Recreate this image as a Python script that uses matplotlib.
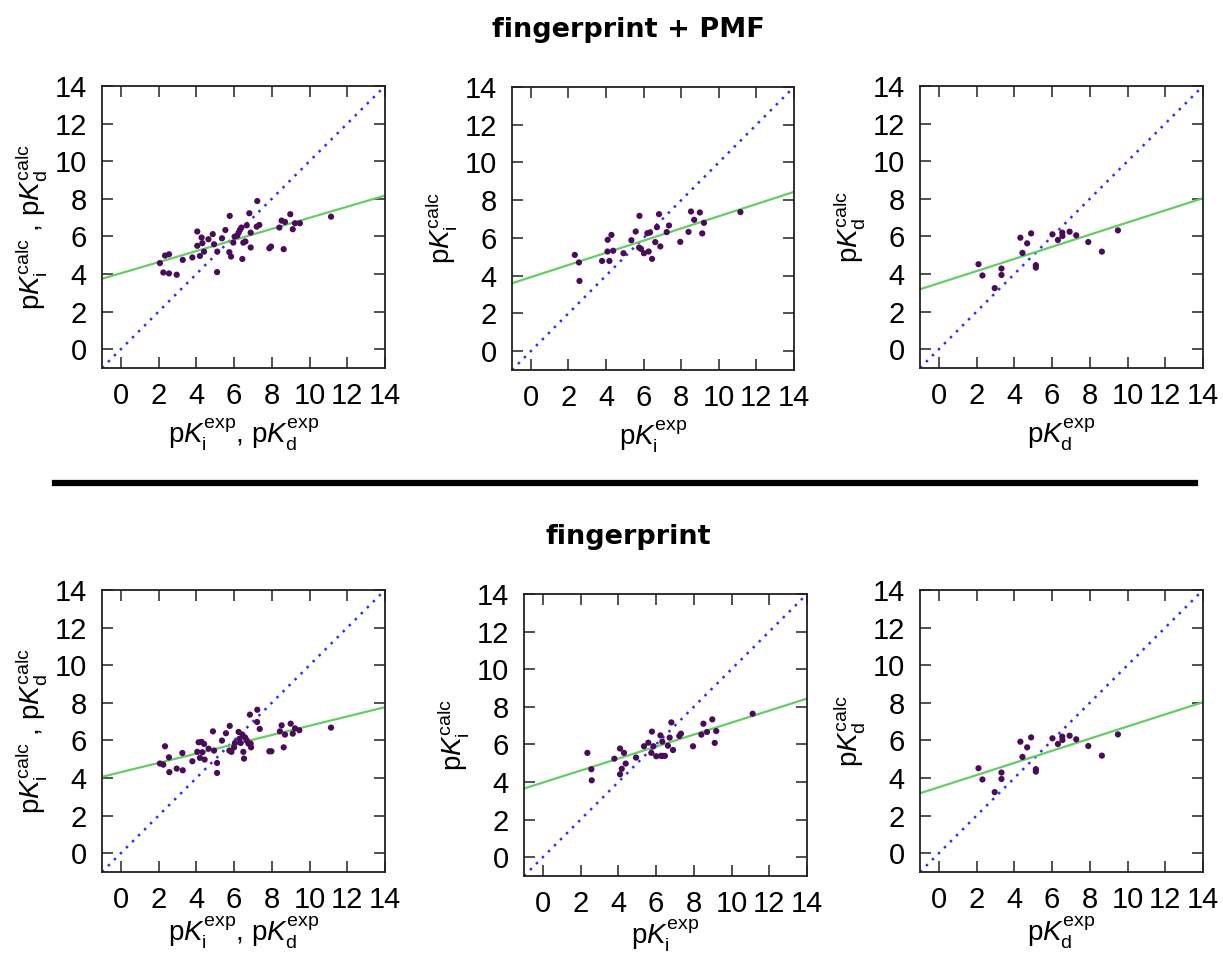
import numpy as np
import matplotlib
matplotlib.use("Agg")
import matplotlib.pyplot as plt
from matplotlib.lines import Line2D

plt.rcParams["font.family"] = ["Liberation Sans", "DejaVu Sans"]
plt.rcParams["mathtext.fontset"] = "custom"
plt.rcParams["mathtext.rm"] = "Liberation Sans"
plt.rcParams["mathtext.it"] = "Liberation Sans:italic"

# fingerprint + PMF, combined Ki and Kd
pmf_all_x = [2.07, 2.25, 2.34, 2.55, 2.55, 2.96, 3.28, 3.79, 4.05, 4.05, 4.19, 4.28, 4.32,
             4.41, 4.64, 4.87, 4.94, 5.10, 5.11, 5.36, 5.54, 5.77, 5.75, 5.84, 5.96, 6.03,
             6.17, 6.24, 6.31, 6.39, 6.44, 6.49, 6.60, 6.67, 6.81, 6.88, 6.88, 7.20, 7.23,
             7.34, 7.87, 7.96, 8.40, 8.52, 8.63, 8.70, 8.98, 9.11, 9.23, 9.49, 11.14]
pmf_all_y = [4.58, 4.08, 4.98, 5.05, 4.03, 3.96, 4.75, 4.88, 6.26, 5.50, 4.96, 5.94, 5.64,
             5.19, 5.85, 6.12, 5.58, 4.10, 5.19, 5.90, 6.34, 7.09, 5.16, 4.93, 5.67, 5.99,
             6.04, 6.20, 6.34, 6.47, 4.80, 5.67, 5.73, 6.59, 7.23, 5.41, 6.20, 6.52, 7.88,
             6.61, 5.37, 5.46, 6.47, 6.84, 5.32, 6.77, 7.18, 6.38, 6.70, 6.70, 7.05]

# fingerprint + PMF, Ki only
pmf_ki_x = [2.34, 2.56, 2.59, 3.79, 4.08, 4.09, 4.18, 4.29, 4.38, 4.93, 5.35, 5.58, 5.78,
            5.76, 5.86, 6.02, 6.20, 6.34, 6.27, 6.45, 6.62, 6.71, 6.82, 6.89, 7.23, 7.35,
            7.95, 8.39, 8.52, 8.69, 8.99, 9.12, 9.21, 11.15]
pmf_ki_y = [5.10, 4.70, 3.72, 4.78, 5.28, 5.90, 4.78, 6.16, 5.32, 5.19, 5.88, 6.34, 7.17,
            5.49, 5.42, 5.19, 6.25, 6.29, 5.28, 4.89, 5.78, 6.57, 7.26, 5.55, 6.31, 6.66,
            5.79, 6.32, 7.40, 6.96, 7.35, 6.24, 6.80, 7.37]

# Kd only (same in both rows)
kd_x = [2.10, 2.31, 2.96, 3.32, 3.32, 4.32, 4.43, 4.68, 4.89, 5.14, 5.14, 6.02, 6.31,
        6.54, 6.55, 6.93, 7.28, 7.92, 8.64, 9.49]
kd_y = [4.52, 3.92, 3.25, 4.29, 3.95, 5.93, 5.12, 5.63, 6.16, 4.47, 4.34, 6.11, 5.81,
        6.20, 6.02, 6.25, 6.06, 5.70, 5.19, 6.32]

# fingerprint, combined Ki and Kd
fp_all_x = [2.07, 2.25, 2.34, 2.55, 2.57, 2.96, 3.26, 3.28, 3.79, 4.05, 4.12, 4.19, 4.28,
            4.32, 4.41, 4.44, 4.65, 4.88, 4.94, 5.10, 5.10, 5.36, 5.57, 5.77, 5.75, 5.86,
            6.00, 6.05, 6.24, 6.28, 6.35, 6.44, 6.49, 6.53, 6.58, 6.67, 6.76, 6.84, 6.88,
            6.90, 7.22, 7.23, 7.36, 7.87, 7.98, 8.43, 8.52, 8.63, 8.70, 9.00, 9.11, 9.23,
            9.46, 11.14]
fp_all_y = [4.77, 4.71, 5.69, 5.10, 4.31, 4.50, 5.33, 4.41, 4.89, 5.39, 5.90, 5.07, 5.92,
            5.37, 5.81, 4.98, 5.56, 6.48, 5.46, 4.80, 4.27, 5.99, 6.38, 6.77, 5.46, 5.39,
            5.63, 5.86, 6.45, 6.08, 5.86, 6.31, 5.39, 5.03, 6.16, 6.01, 5.83, 7.37, 5.83,
            5.63, 6.98, 7.63, 6.61, 5.42, 5.42, 6.48, 6.80, 5.63, 6.31, 6.89, 6.36, 6.64,
            6.54, 6.68]

# fingerprint, Ki only
fp_ki_x = [2.36, 2.57, 2.59, 3.79, 4.09, 4.09, 4.18, 4.30, 4.39, 4.94, 5.36, 5.59, 5.78,
           5.75, 5.86, 6.01, 6.23, 6.26, 6.33, 6.35, 6.47, 6.63, 6.72, 6.81, 6.90, 7.23,
           7.32, 7.96, 8.40, 8.51, 8.70, 8.98, 9.11, 9.19, 11.12]
fp_ki_y = [5.55, 4.68, 4.09, 5.24, 5.78, 4.41, 4.70, 5.55, 4.98, 5.30, 5.90, 6.09, 6.68,
           5.55, 5.90, 5.37, 6.48, 5.39, 6.15, 5.39, 5.39, 5.93, 6.36, 7.17, 5.70, 6.45,
           6.57, 5.90, 6.52, 7.10, 6.66, 7.33, 6.08, 6.71, 7.63]

# regression lines (slope, intercept)
fit_pmf_all = (0.295, 4.04)
fit_pmf_ki = (0.323, 3.92)
fit_kd = (0.323, 3.51)
fit_fp_all = (0.247, 4.31)
fit_fp_ki = (0.319, 3.97)

XLAB_ALL = r"p$K_\mathrm{i}^\mathrm{exp}$, p$K_\mathrm{d}^\mathrm{exp}$"
YLAB_ALL = r"p$K_\mathrm{i}^\mathrm{calc}$ , p$K_\mathrm{d}^\mathrm{calc}$"
XLAB_KI = r"p$K_\mathrm{i}^\mathrm{exp}$"
YLAB_KI = r"p$K_\mathrm{i}^\mathrm{calc}$"
XLAB_KD = r"p$K_\mathrm{d}^\mathrm{exp}$"
YLAB_KD = r"p$K_\mathrm{d}^\mathrm{calc}$"

W, H = 1223.0, 960.0


def make_ax(fig, left, top, right, bottom):
    return fig.add_axes([left / W, 1 - bottom / H, (right - left) / W, (bottom - top) / H])


def draw_panel(ax, x, y, fit, xlabel, ylabel, xpad=5):
    lim = np.array([-1.0, 14.0])
    ax.plot(lim, lim, color="#2b2bff", lw=1.8, ls=(0, (1, 2.4)), zorder=2)
    ax.plot(lim, fit[0] * lim + fit[1], color="#66cc66", lw=1.6, zorder=2)
    ax.scatter(x, y, s=20, color="#480c58", edgecolors="none", zorder=3)
    ax.set_xlim(-1, 14)
    ax.set_ylim(-1, 14)
    ax.set_xticks(np.arange(0, 15, 2))
    ax.set_yticks(np.arange(0, 15, 2))
    ax.tick_params(direction="in", length=8, width=1.1, top=True, right=True,
                   labelsize=21, color="#222222")
    ax.tick_params(axis="x", pad=10)
    ax.tick_params(axis="y", pad=11)
    for sp in ax.spines.values():
        sp.set_linewidth(1.3)
        sp.set_color("#222222")
    ax.set_xlabel(xlabel, fontsize=20, labelpad=xpad)
    ax.set_ylabel(ylabel, fontsize=20, labelpad=4)


fig = plt.figure(figsize=(W / 100, H / 100), dpi=100)

ax1 = make_ax(fig, 102, 86, 385, 368)
draw_panel(ax1, pmf_all_x, pmf_all_y, fit_pmf_all, XLAB_ALL, YLAB_ALL)
ax2 = make_ax(fig, 512, 87, 794, 370)
draw_panel(ax2, pmf_ki_x, pmf_ki_y, fit_pmf_ki, XLAB_KI, YLAB_KI)
ax3 = make_ax(fig, 920, 86, 1203, 368)
draw_panel(ax3, kd_x, kd_y, fit_kd, XLAB_KD, YLAB_KD)

ax4 = make_ax(fig, 102, 590, 385, 872)
draw_panel(ax4, fp_all_x, fp_all_y, fit_fp_all, XLAB_ALL, YLAB_ALL, xpad=1)
ax5 = make_ax(fig, 524, 594, 807, 876)
draw_panel(ax5, fp_ki_x, fp_ki_y, fit_fp_ki, XLAB_KI, YLAB_KI, xpad=0)
ax6 = make_ax(fig, 920, 590, 1203, 872)
draw_panel(ax6, kd_x, kd_y, fit_kd, XLAB_KD, YLAB_KD, xpad=1)

fig.text(628 / W, 1 - 30 / H, "fingerprint + PMF", ha="center", va="center",
         fontsize=19.5, weight="bold", family="DejaVu Sans")
fig.text(628 / W, 1 - 537 / H, "fingerprint", ha="center", va="center",
         fontsize=19.5, weight="bold", family="DejaVu Sans")
fig.add_artist(Line2D([55 / W, 1195 / W], [1 - 483 / H, 1 - 483 / H], color="black",
                      lw=4.5, transform=fig.transFigure))

fig.savefig("out.png", dpi=100)
